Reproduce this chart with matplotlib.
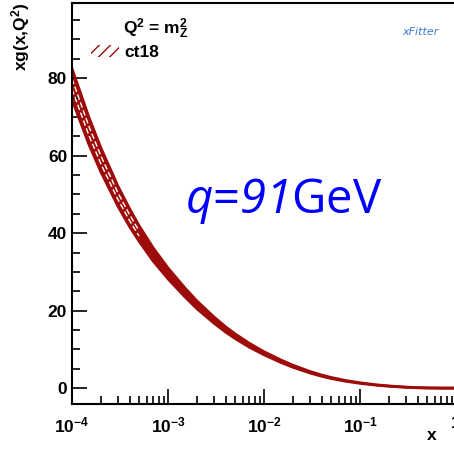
import matplotlib
matplotlib.use("Agg")
import matplotlib.pyplot as plt
from matplotlib.patches import Patch
from matplotlib.ticker import MultipleLocator, FixedLocator, LogLocator, NullFormatter
import numpy as np

plt.rcParams['font.family'] = ['Liberation Sans', 'DejaVu Sans']
plt.rcParams['mathtext.fontset'] = 'custom'
plt.rcParams['mathtext.rm'] = 'Open Sans:italic'
plt.rcParams['mathtext.it'] = 'Open Sans:italic'
plt.rcParams['mathtext.bf'] = 'Liberation Sans:bold'

# gluon distribution (central value and half width of the band)
x_vals = [1e-4, 1.5e-4, 2e-4, 3e-4, 4e-4, 5e-4, 7e-4, 1e-3, 1.5e-3, 2e-3, 3e-3,
          4e-3, 5e-3, 7e-3, 1e-2, 1.5e-2, 2e-2, 3e-2, 4e-2, 5e-2, 7e-2, 0.1,
          0.15, 0.2, 0.3, 0.4, 0.5, 0.7, 1.0]
xg_vals = [78.5, 66.4, 58.9, 49.6, 43.9, 39.9, 34.5, 29.6, 24.7, 21.5, 17.6,
           15.1, 13.4, 11.1, 9.0, 6.94, 5.65, 4.11, 3.21, 2.62, 1.89, 1.30,
           0.79, 0.52, 0.24, 0.11, 0.045, 0.004, 0.0]
xg_err = [4.0, 3.5, 3.1, 2.6, 2.3, 2.0, 1.7, 1.4, 1.15, 1.0, 0.8,
          0.68, 0.6, 0.5, 0.4, 0.32, 0.27, 0.2, 0.16, 0.13, 0.1, 0.07,
          0.05, 0.04, 0.02, 0.015, 0.01, 0.005, 0.0]
xtick_pos = [1e-4, 1e-3, 1e-2, 1e-1, 1.0]
xtick_lab = [r'$\mathbf{10^{-4}}$', r'$\mathbf{10^{-3}}$', r'$\mathbf{10^{-2}}$',
             r'$\mathbf{10^{-1}}$', r'$\mathbf{1}$']

x = np.array(x_vals)
c = np.array(xg_vals)
e = np.array(xg_err)
red = '#9e0b0b'

fig = plt.figure(figsize=(4.54, 4.49), dpi=100)
ax = fig.add_axes([72/454, 1-404/449, 384/454, 401/449])

ax.fill_between(x, c - e, c + e, color=red, lw=0)
ax.plot(x, c + e, color=red, lw=2)
ax.plot(x, c - e, color=red, lw=2)
# white dashes inside the band, only visible where it is wide
wide = np.ma.masked_where(e < 1.9, c)
ax.plot(x, wide + e/3, color='white', lw=1, ls=(0, (4, 2)))
ax.plot(x, wide - e/3, color='white', lw=1, ls=(0, (4, 2)))

ax.set_xscale('log')
ax.set_xlim(1e-4, 1.0)
ax.set_ylim(-4.1, 99.4)

ax.yaxis.set_major_locator(MultipleLocator(20))
ax.yaxis.set_minor_locator(MultipleLocator(5))
ax.xaxis.set_major_locator(FixedLocator(xtick_pos))
ax.set_xticklabels(xtick_lab)
ax.xaxis.set_minor_locator(LogLocator(base=10, subs=np.arange(2, 10), numticks=10))
ax.xaxis.set_minor_formatter(NullFormatter())
ax.tick_params(which='both', direction='in', top=False, right=False,
               labelsize=12.5, width=1.2)
ax.tick_params(which='major', length=11)
ax.tick_params(which='minor', length=5.5)
ax.tick_params(axis='x', pad=8)
for lab in ax.get_yticklabels():
    lab.set_fontweight('bold')
for s in ax.spines.values():
    s.set_linewidth(1.5)

ax.set_ylabel(r'xg(x,Q$^{\mathbf{2}}$)', fontsize=12.5, fontweight='bold')
ax.yaxis.set_label_coords(-0.165, 1.0)
ax.yaxis.label.set_va('top')
ax.yaxis.label.set_ha('right')
fig.text(432/454, 1-436/449, 'x', fontsize=12.5,
         fontweight='bold', ha='center', va='center')

# legend
fig.text(123/454, 1-29/449, r'Q$^{\mathbf{2}}$ = m$_{\mathbf{Z}}^{\mathbf{2}}$',
         fontsize=12.5, fontweight='bold', va='center')
handle = Patch(facecolor='none', edgecolor=red, hatch='///', lw=0, label='ct18')
leg = ax.legend(handles=[handle], loc='upper left', bbox_to_anchor=(0.01, 0.935),
                frameon=False, prop={'weight': 'bold', 'size': 12.5},
                handlelength=1.6, handletextpad=0.3)

# xFitter logo
fig.text(420/454, 1-32/449, 'xFitter', fontsize=8, style='italic',
         color='#3a7bd5', ha='center', va='center', family='DejaVu Sans')

# annotation
fig.text(185/454, 1-213/449, r'$q$=$91$GeV', fontsize=34, color='blue',
         family='Open Sans')

fig.savefig('out.png', dpi=100)
